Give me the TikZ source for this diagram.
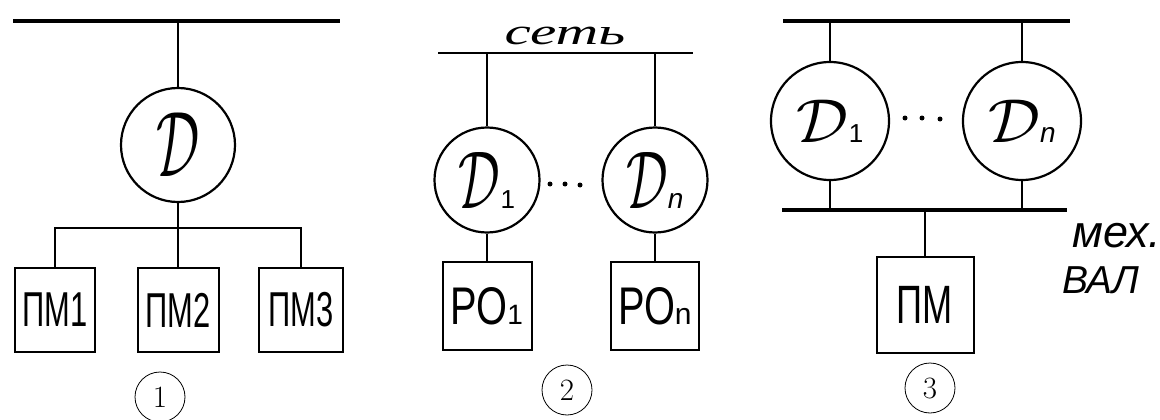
\documentclass[tikz,border=0pt]{standalone}
\usepackage{fontspec}
\usepackage{graphicx}
\newfontfamily\hsans{Liberation Sans}
\newfontfamily\hserif{Liberation Serif}
\tikzset{
  bus/.style={line width=3.5pt},
  wire/.style={line width=2pt},
  ring/.style={circle, draw, line width=2.2pt, inner sep=0pt},
  blk/.style={rectangle, draw, line width=2pt, inner sep=0pt},
  numc/.style={circle, draw, line width=0.8pt, minimum size=50pt, inner sep=0pt, font=\fontsize{31}{31}\selectfont},
  dotm/.style={circle, fill, inner sep=0pt, minimum size=5pt}
}
\newcommand{\boxtxt}[3]{\scalebox{#1}[1]{\fontsize{#2}{#2}\selectfont\hsans #3}}
\begin{document}
\begin{tikzpicture}[x=1pt,y=-1pt]
\useasboundingbox (0,0) rectangle (1160,420);
% ---------- diagram 1 ----------
\coordinate (b1L) at (13,21);
\coordinate (b1R) at (340,21);
\draw[bus] (b1L) -- (b1R);
\node[ring, minimum size=114pt] (d) at (178,145) {\scalebox{5.4}[9.3]{$\mathcal{D}$}};
\draw[wire] (d.north) -- (d.north |- b1L);
\node[blk, minimum width=80pt, minimum height=84pt] (pm1) at (55,310) {\boxtxt{0.63}{49}{ПМ1}};
\node[blk, minimum width=81pt, minimum height=84pt] (pm2) at (178,310) {\boxtxt{0.63}{49}{ПМ2}};
\node[blk, minimum width=84pt, minimum height=84pt] (pm3) at (301,310) {\boxtxt{0.63}{49}{ПМ3}};
\coordinate (j1) at (178,228);
\draw[wire] (d.south) -- (j1);
\draw[wire] (pm1.north) -- (pm1.north |- j1) -- (pm3.north |- j1) -- (pm3.north);
\draw[wire] (j1) -- (pm2.north);
\node[numc] (n1) at (160,397) {1};
% ---------- diagram 2 ----------
\node[anchor=base, inner sep=0pt] (set) at (565,45) {\scalebox{1.6}[1]{\fontsize{37}{37}\selectfont\hserif\itshape сеть}};
\coordinate (b2L) at (438,53);
\coordinate (b2R) at (693,53);
\draw[line width=2.5pt] (b2L) -- (b2R);
\node[ring, minimum size=105pt] (d21) at (487,180) {\scalebox{5.2}[8.2]{$\mathcal{D}$}\fontsize{26}{26}\selectfont\hsans 1};
\node[ring, minimum size=105pt] (d2n) at (655,180) {\scalebox{5.2}[8.2]{$\mathcal{D}$}\fontsize{28}{28}\selectfont\hsans\itshape n};
\draw[wire] (d21.north) -- (d21.north |- b2L);
\draw[wire] (d2n.north) -- (d2n.north |- b2L);
\node[blk, minimum width=89pt, minimum height=88pt] (po1) at (487,306) {\boxtxt{0.75}{53}{РО}\fontsize{28}{28}\selectfont\hsans 1};
\node[blk, minimum width=88pt, minimum height=88pt] (pon) at (655,306) {\boxtxt{0.75}{53}{РО}\fontsize{30}{30}\selectfont\hsans n};
\draw[wire] (d21.south) -- (po1.north);
\draw[wire] (d2n.south) -- (pon.north);
\node[dotm] (p21) at (550,184) {};
\node[dotm] (p22) at (565,184) {};
\node[dotm] (p23) at (580,185) {};
\node[numc] (n2) at (567,390) {2};
% ---------- diagram 3 ----------
\coordinate (b3L) at (783,21);
\coordinate (b3R) at (1070,21);
\draw[bus] (b3L) -- (b3R);
\node[ring, minimum size=118pt] (d31) at (830,121) {\scalebox{6.5}[6.2]{$\mathcal{D}$}\fontsize{26}{26}\selectfont\hsans 1};
\node[ring, minimum size=118pt] (d3n) at (1022,121) {\scalebox{6.5}[6.2]{$\mathcal{D}$}\fontsize{28}{28}\selectfont\hsans\itshape n};
\draw[wire] (d31.north) -- (d31.north |- b3L);
\draw[wire] (d3n.north) -- (d3n.north |- b3L);
\coordinate (s3L) at (782,210);
\coordinate (s3R) at (1067,210);
\draw[bus] (s3L) -- (s3R);
\draw[wire] (d31.south) -- (d31.south |- s3L);
\draw[wire] (d3n.south) -- (d3n.south |- s3L);
\node[blk, minimum width=97pt, minimum height=96pt] (pm) at (925,305) {\boxtxt{0.67}{54}{ПМ}};
\draw[wire] (pm.north) -- (pm.north |- s3L);
\node[dotm] (p31) at (905,118) {};
\node[dotm] (p32) at (922,118) {};
\node[dotm] (p33) at (940,119) {};
\node[anchor=base west, inner sep=0pt] (mex) at (1072,247) {\fontsize{45}{45}\selectfont\hsans\itshape мех.};
\node[anchor=base west, inner sep=0pt] (val) at (1062,293) {\fontsize{39}{39}\selectfont\hsans\itshape ВАЛ};
\node[numc] (n3) at (930,388) {3};
\end{tikzpicture}
\end{document}
